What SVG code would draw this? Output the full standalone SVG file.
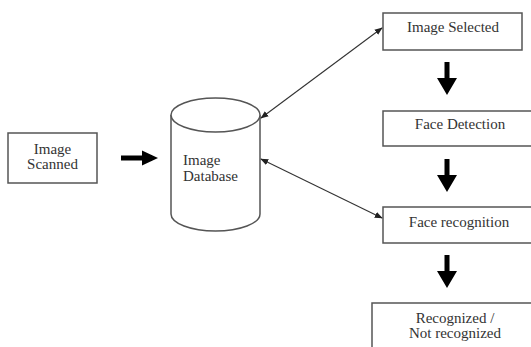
<svg xmlns="http://www.w3.org/2000/svg" xmlns:xlink="http://www.w3.org/1999/xlink" width="531" height="347" viewBox="0 0 531 347">
<style>
.box{fill:#fff;stroke:#555;stroke-width:1.5}
.t{font-family:"Liberation Serif","Times New Roman",serif;font-size:15px;fill:#333}
.c{text-anchor:middle}
.thin{stroke:#333;stroke-width:1.1;fill:none;marker-start:url(#ah);marker-end:url(#ah)}
.big{fill:#000}
</style>
<defs>
<marker id="ah" viewBox="0 0 10 10" refX="9" refY="5" markerWidth="8" markerHeight="8" markerUnits="userSpaceOnUse" orient="auto-start-reverse">
<path d="M0,1 L10,5 L0,9 Z" fill="#222"/>
</marker>
<path id="down" d="M-2.5,0 H2.5 V16 H10 L0,33 L-10,16 H-2.5 Z"/>
</defs>
<rect width="531" height="347" fill="#fff"/>
<g id="image-scanned">
<rect class="box" x="8" y="133" width="89" height="50"/>
<text class="t c" x="52.5" y="154">Image</text>
<text class="t c" x="52.5" y="169">Scanned</text>
</g>
<g id="image-database">
<path d="M171,115 V214 A44.5,17 0 0 0 260,214 V115" fill="#fff" stroke="#555" stroke-width="1.5"/>
<ellipse cx="215.5" cy="115" rx="44.5" ry="17" fill="#fff" stroke="#555" stroke-width="1.5"/>
<text class="t" x="183" y="165">Image</text>
<text class="t" x="183" y="181">Database</text>
</g>
<g id="image-selected">
<rect class="box" x="383" y="13" width="139" height="37"/>
<text class="t c" x="453" y="32">Image Selected</text>
</g>
<g id="face-detection">
<rect class="box" x="383" y="111" width="155" height="35"/>
<text class="t c" x="460" y="129">Face Detection</text>
</g>
<g id="face-recognition">
<rect class="box" x="383" y="207" width="155" height="36"/>
<text class="t c" x="459" y="227">Face recognition</text>
</g>
<g id="recognized">
<rect class="box" x="372" y="303" width="166" height="50"/>
<text class="t c" x="455" y="323">Recognized /</text>
<text class="t c" x="455" y="338">Not recognized</text>
</g>
<g id="connectors">
<path class="big" d="M121,155.5 H142 V150.5 L158,158 L142,165.5 V160.5 H121 Z"/>
<use xlink:href="#down" href="#down" class="big" transform="translate(447,62)"/>
<use xlink:href="#down" href="#down" class="big" transform="translate(447,159)"/>
<use xlink:href="#down" href="#down" class="big" transform="translate(447,255)"/>
<line class="thin" x1="261" y1="118" x2="382" y2="28"/>
<line class="thin" x1="261" y1="159" x2="382" y2="218"/>
</g>
</svg>
